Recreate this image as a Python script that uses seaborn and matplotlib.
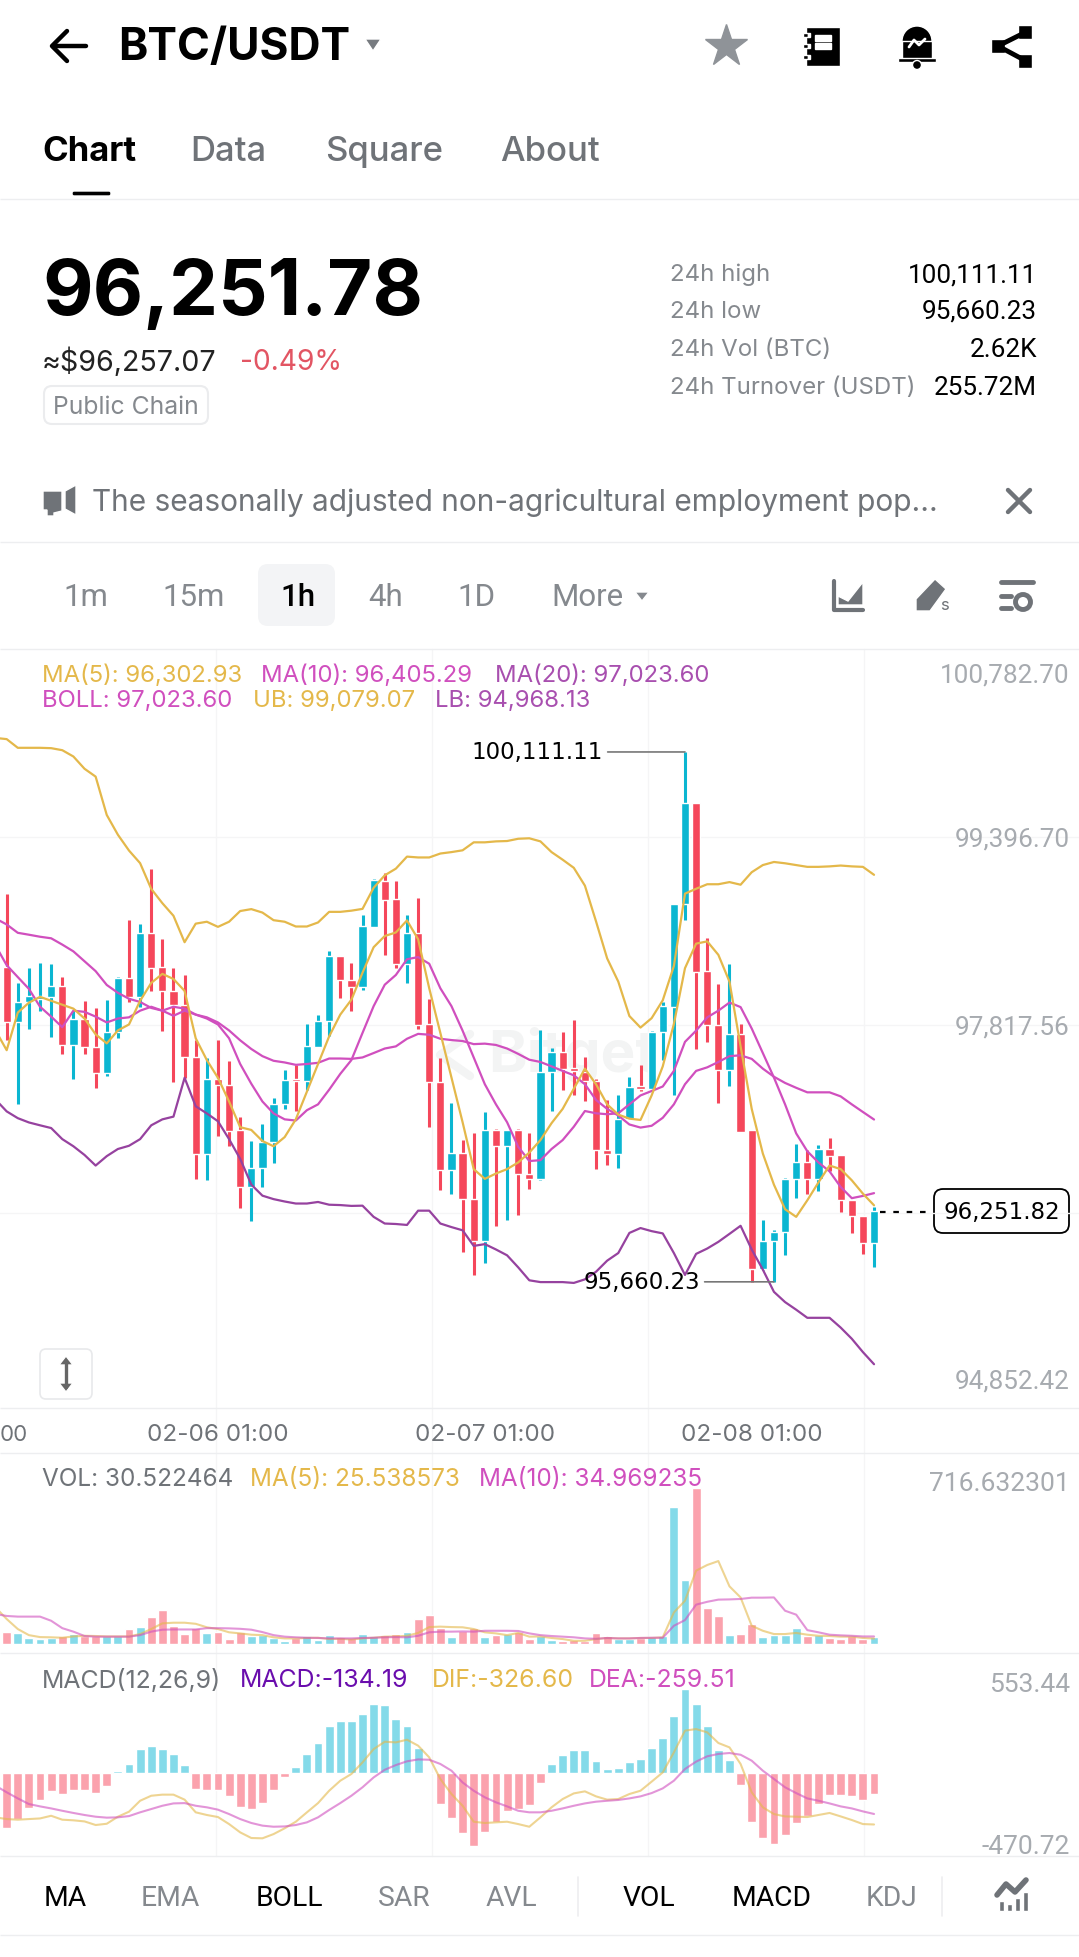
"""Bitget style BTC/USDT mobile chart screen."""
import matplotlib
matplotlib.use("Agg")
import matplotlib.pyplot as plt
from matplotlib.patches import FancyBboxPatch, Polygon, Rectangle, Circle
import numpy as np
import pandas as pd
import seaborn as sns

W, H = 1079, 1958

# candles
opens = [98303, 97839, 98011, 98038, 98054, 98147, 97646, 97865, 97633, 97417, 97756, 98214, 98054, 98592, 98303, 98104,
         97988, 97550, 96736, 97364, 97314, 96932, 96461, 96617, 96836, 97158, 97364, 97351, 97633, 97849, 98393, 98197,
         98137, 98643, 99026, 98876, 98332, 98591, 97822, 97335, 96600, 96746, 96352, 96007, 96933, 96802, 96933, 96562,
         96521, 97425, 97593, 97458, 97425, 97350, 96768, 96731, 97027, 97301, 97282, 97762, 97968, 98831, 99686, 98268,
         97818, 97440, 97743, 96933, 95771, 96007, 96075, 96521, 96663, 96525, 96776, 96727, 96345, 96213, 95988]
closes = [97839, 98011, 98061, 98061, 98147, 97646, 97865, 97629, 97417, 97756, 98214, 98054, 98592, 98297, 98104, 97988,
          97550, 96736, 97364, 97314, 96926, 96461, 96617, 96836, 97158, 97357, 97351, 97639, 97849, 98393, 98197, 98137,
          98651, 99033, 98868, 98332, 98591, 97815, 97335, 96600, 96746, 96352, 96007, 96933, 96802, 96933, 96562, 96521,
          97425, 97593, 97451, 97432, 97350, 96768, 96731, 97027, 97301, 97282, 97762, 97976, 98831, 99686, 98265, 97815,
          97440, 97743, 96918, 95771, 96007, 96075, 96525, 96663, 96525, 96776, 96720, 96345, 96213, 95988, 96251.82]
highs = [98918, 98171, 98297, 98337, 98327, 98220, 97938, 98021, 97961, 98028, 98220, 98702, 98669, 99127, 98542, 98297,
         98237, 97689, 97540, 97689, 97517, 97042, 96843, 96982, 97201, 97440, 97483, 97822, 97905, 98436, 98393, 98337,
         98745, 99045, 99093, 99026, 98745, 98883, 98040, 97537, 97162, 96851, 96907, 97083, 96945, 96933, 96945, 96907,
         97777, 97627, 97758, 97863, 97545, 97368, 97188, 97226, 97383, 97481, 97770, 98013, 98838, 100111.11, 99686, 98546,
         98163, 98332, 97826, 96933, 96176, 96093, 96532, 96821, 96768, 96813, 96870, 96727, 96345, 96213, 96288]
lows = [97689, 97158, 97782, 97938, 97716, 97573, 97364, 97573, 97291, 97390, 97706, 98011, 97971, 98104, 97766, 97341,
        97374, 96527, 96517, 96886, 96799, 96278, 96169, 96454, 96660, 97108, 97092, 97274, 97629, 97729, 98048, 97938,
        98115, 98643, 98407, 98295, 98171, 97788, 96963, 96431, 96401, 95913, 95715, 95820, 96127, 96183, 96221, 96438,
        96513, 97095, 97275, 97226, 97181, 96607, 96645, 96618, 97027, 97263, 97275, 97526, 97226, 98700, 97612, 97676,
        97162, 97308, 96915, 95660.23, 95763, 95660.23, 95883, 96363, 96401, 96420, 96588, 96251, 96071, 95895, 95782]

# overlays, the first value sits one candle left of the screen edge
ma5 = [97772, 97606, 97922, 98005, 98054, 98021, 97988, 97955, 97872, 97739, 97663, 97772, 97822, 98021, 98171, 98247,
       98204, 98104, 97706, 97523, 97374, 97175, 96959, 96936, 96843, 96799, 96876, 97025, 97258, 97490, 97722, 97905,
       98030, 98257, 98471, 98565, 98595, 98696, 98538, 98126, 97751, 97376, 97001, 96607, 96525, 96570, 96607, 96663,
       96746, 96851, 96993, 97113, 97282, 97451, 97320, 97151, 97065, 97031, 97020, 97226, 97470, 97826, 98295, 98501,
       98520, 98407, 98182, 97638, 97113, 96738, 96476, 96270, 96206, 96345, 96495, 96637, 96607, 96513, 96401, 96302.93]
ma10 = [98486, 98320, 98220, 98121, 97971, 97888, 97799, 97938, 97928, 97888, 97839, 97872, 97882, 97938, 97971, 97938,
        97895, 97938, 97905, 97872, 97822, 97706, 97490, 97324, 97175, 97075, 97025, 97015, 97102, 97151, 97274, 97407,
        97523, 97751, 97976, 98156, 98238, 98370, 98388, 98332, 98126, 97976, 97770, 97545, 97320, 97151, 97001, 96795,
        96675, 96682, 96776, 96851, 96963, 97095, 97076, 97068, 97076, 97151, 97226, 97263, 97301, 97432, 97676, 97770,
        97882, 97938, 98006, 97968, 97788, 97582, 97376, 97151, 96907, 96757, 96663, 96588, 96457, 96363, 96382, 96405.29]
ma20 = [98712, 98662, 98592, 98576, 98559, 98546, 98493, 98436, 98353, 98270, 98154, 98088, 98038, 98011, 97961, 97938,
        97971, 97955, 97905, 97882, 97839, 97772, 97689, 97616, 97556, 97517, 97503, 97483, 97490, 97500, 97536, 97536,
        97533, 97545, 97582, 97620, 97638, 97702, 97743, 97736, 97702, 97691, 97683, 97657, 97661, 97650, 97620, 97575,
        97526, 97507, 97470, 97432, 97395, 97320, 97188, 97113, 97057, 96982, 96956, 96971, 97038, 97151, 97320, 97432,
        97462, 97507, 97556, 97563, 97533, 97451, 97383, 97331, 97290, 97252, 97252, 97252, 97218, 97151, 97087, 97023.60]
boll_ub = [100229, 100219, 100146, 100146, 100146, 100143, 100126, 100073, 99970, 99904, 99582, 99416, 99283, 99177, 98961, 98841,
           98735, 98513, 98669, 98685, 98642, 98685, 98775, 98791, 98762, 98698, 98685, 98645, 98645, 98679, 98768, 98768,
           98778, 98793, 98970, 99075, 99131, 99232, 99225, 99225, 99258, 99270, 99285, 99352, 99352, 99360, 99363, 99382,
           99386, 99360, 99270, 99206, 99138, 98988, 98688, 98377, 98182, 97893, 97796, 97875, 98025, 98313, 98921, 98962,
           99000, 99000, 99018, 98996, 99101, 99161, 99187, 99176, 99161, 99146, 99146, 99150, 99157, 99150, 99146, 99079.07]
boll_lb = [97191, 97092, 97035, 96999, 96975, 96952, 96859, 96799, 96726, 96637, 96716, 96776, 96803, 96859, 96975, 97025,
           97048, 97374, 97135, 97075, 97009, 96859, 96693, 96477, 96384, 96355, 96335, 96318, 96318, 96331, 96308, 96305,
           96298, 96300, 96206, 96150, 96146, 96138, 96258, 96258, 96150, 96120, 96093, 95962, 95977, 95932, 95883, 95782,
           95673, 95658, 95658, 95658, 95651, 95681, 95745, 95838, 95902, 96071, 96112, 96086, 96067, 95902, 95718, 95895,
           95940, 95996, 96063, 96131, 95932, 95763, 95576, 95490, 95426, 95358, 95358, 95358, 95276, 95182, 95070, 94968.13]

# volume
volume = [55, 51, 26, 21, 26, 37, 44, 37, 37, 38, 38, 67, 78, 124, 155, 81, 46, 73, 51, 55, 23, 54, 37, 41, 28, 14, 26, 35, 18, 41,
          31, 26, 46, 35, 40, 46, 55, 115, 133, 73, 32, 60, 73, 32, 41, 46, 55, 23, 37, 18, 14, 18, 15, 51, 37, 23, 24, 26, 31, 37,
          629, 294, 716.63, 165, 129, 41, 46, 92, 32, 41, 41, 73, 38, 41, 28, 23, 37, 23, 30.52]
vol_ma5 = [168, 115, 69, 41, 32, 31, 29, 35, 38, 37, 35, 35, 35, 46, 69, 95, 98, 98, 93, 77, 69, 54, 49, 43, 41, 31, 26, 26, 28, 29,
           23, 24, 21, 26, 29, 34, 35, 38, 51, 78, 80, 78, 77, 69, 54, 49, 41, 51, 34, 35, 28, 23, 15, 15, 23, 28, 26, 26, 28, 28,
           31, 145, 199, 337, 363, 381, 265, 214, 84, 61, 46, 46, 51, 43, 38, 37, 34, 34, 28, 25.54]
vol_ma10 = [138, 129, 126, 126, 126, 107, 73, 57, 37, 34, 34, 34, 34, 41, 57, 66, 67, 67, 67, 73, 73, 72, 70, 66, 55, 41, 34, 31, 29, 28,
            26, 26, 26, 28, 29, 31, 32, 31, 38, 54, 57, 57, 58, 57, 61, 61, 61, 60, 49, 41, 37, 34, 31, 26, 24, 28, 26, 26, 28, 29,
            29, 84, 110, 181, 194, 204, 205, 207, 213, 213, 214, 153, 135, 64, 54, 43, 40, 38, 35, 34.97]

# macd
macd_hist = [-351, -292, -224, -168, -111, -130, -104, -104, -124, -79, 17, 60, 155, 177, 155, 124, 53, -98, -104, -104, -143, -213,
             -226, -187, -104, -23, 40, 124, 194, 302, 334, 334, 379, 443, 437, 347, 302, 162, 4, -196, -285, -381, -462, -373,
             -313, -239, -228, -202, -60, 60, 117, 149, 149, 79, 28, 34, 72, 92, 162, 226, 366, 539, 443, 302, 149, 85, -72, -309,
             -411, -449, -392, -315, -271, -194, -136, -136, -143, -168, -134.19]
macd_dif = [-281, -292, -296, -292, -288, -271, -296, -300, -307, -330, -322, -277, -245, -175, -143, -136, -136, -168, -249, -266,
            -279, -324, -377, -413, -415, -388, -351, -309, -249, -190, -111, -47, -4, 70, 155, 202, 198, 215, 177, 102, -36, -132,
            -207, -309, -317, -313, -309, -324, -341, -281, -217, -164, -128, -115, -147, -168, -164, -132, -111, -53, 6, 134, 273,
            283, 262, 194, 166, 60, -121, -217, -260, -275, -277, -279, -266, -253, -275, -298, -324, -326.60]
macd_dea = [-79, -121, -160, -196, -211, -224, -239, -253, -266, -277, -283, -281, -273, -249, -228, -207, -192, -190, -207, -217,
            -232, -260, -292, -317, -334, -341, -339, -330, -313, -281, -234, -190, -143, -89, -26, 23, 53, 77, 89, 87, 60, 17, -58,
            -111, -153, -185, -211, -239, -249, -249, -239, -224, -207, -192, -181, -175, -170, -160, -147, -126, -96, -47, 28, 75,
            109, 124, 130, 119, 81, 17, -36, -89, -126, -160, -175, -192, -211, -224, -243, -259.51]

price_ticks = [100782.70, 99396.70, 97817.56, 94852.42]
price_grid = [99396.70, 97817.56, 96238.42]
date_labels = ["02-06 01:00", "02-07 01:00", "02-08 01:00"]
date_candles = [19, 43, 67]
last_price = 96251.82

RED, TEAL = "#F5475B", "#0BB6D1"
RED_PALE, TEAL_PALE = "#FBA2AD", "#84DAE9"
YELLOW, MAGENTA, PURPLE = "#E4B84A", "#D04FBE", "#96429F"
GREY, LIGHT = "#6F7378", "#A7ABB0"
RULE = "#EDEEF0"
WIDE = ["DejaVu Sans"]
TABULAR = ["Roboto", "Inter"]

sns.set_theme(style="white")
plt.rcParams["font.family"] = ["Inter", "DejaVu Sans"]

fig = plt.figure(figsize=(W / 100, H / 100), dpi=100, facecolor="white")

ui = fig.add_axes([0, 0, 1, 1], zorder=0)
ui.set_xlim(0, W)
ui.set_ylim(H, 0)
ui.axis("off")


def panel(top, bottom, ymax, ymin):
    ax = fig.add_axes([0, 1 - bottom / H, 1, (bottom - top) / H], zorder=1)
    ax.patch.set_alpha(0)
    ax.set_xlim(-0.6, (W - 6.67) / 11.12)
    ax.set_ylim(ymin, ymax)
    ax.axis("off")
    return ax


def label(x, y, s, size=16, color="black", ha="left", weight="normal", family=None):
    kw = {"family": family} if family else {}
    return ui.text(x, y + 2, s, fontsize=size, color=color, ha=ha, va="center", fontweight=weight, **kw)


def rule(y, x0=0, x1=W, color=RULE, lw=1.0):
    ui.plot([x0, x1], [y, y], color=color, lw=lw, solid_capstyle="butt")


line_idx = np.arange(-1, len(closes))
candle_idx = np.arange(len(closes))
direction = np.where(np.array(closes) >= np.array(opens), "up", "down")

# ---- main candle panel
ax = panel(650, 1409, 100976, 100976 - 759 * 8.4)
body_lo = np.minimum(opens, closes)
body_hi = np.maximum(opens, closes)
candle_colors = [TEAL if d == "up" else RED for d in direction]
ax.vlines(candle_idx, lows, highs, colors=candle_colors, lw=2.2, zorder=2)
ax.bar(candle_idx, body_hi - body_lo, bottom=body_lo, width=0.74, color=candle_colors, zorder=2.5)

main_lines = pd.DataFrame({"i": line_idx, "ma5": ma5, "ma10": ma10, "ma20": ma20, "ub": boll_ub, "lb": boll_lb})
for col, colr in [("ub", YELLOW), ("lb", PURPLE), ("ma20", MAGENTA), ("ma10", MAGENTA), ("ma5", YELLOW)]:
    sns.lineplot(data=main_lines, x="i", y=col, color=colr, lw=1.6, estimator=None, sort=False, legend=False, ax=ax, zorder=3)
ax.set_xlim(-0.6, (W - 6.67) / 11.12)
ax.set_ylim(100976 - 759 * 8.4, 100976)
ax.axis("off")

for idx, val, off, txt in [(61, max(highs), -82, "100,111.11"), (69, min(lows), -74, "95,660.23")]:
    ax.annotate(txt, xy=(idx, val), xytext=(off, 0), textcoords="offset pixels", ha="right", va="center",
                fontsize=16.5, color="black", zorder=6, family=WIDE,
                arrowprops=dict(arrowstyle="-", color="#777777", lw=1.2, shrinkA=1, shrinkB=0))

# ---- volume panel
axv = panel(1454, 1654, 877, -41)
vol_df = pd.DataFrame({"i": candle_idx, "v": volume, "d": direction})
sns.barplot(data=vol_df, x="i", y="v", hue="d", palette={"up": TEAL_PALE, "down": RED_PALE}, native_scale=True,
            dodge=False, width=0.8, saturation=1, errorbar=None, legend=False, ax=axv)
vol_lines = pd.DataFrame({"i": line_idx, "a": vol_ma5, "b": vol_ma10})
sns.lineplot(data=vol_lines, x="i", y="a", color=YELLOW, alpha=0.6, lw=1.5, estimator=None, legend=False, ax=axv)
sns.lineplot(data=vol_lines, x="i", y="b", color=MAGENTA, alpha=0.6, lw=1.5, estimator=None, legend=False, ax=axv)
axv.set_xlim(-0.6, (W - 6.67) / 11.12)
axv.set_ylim(-41, 877)
axv.axis("off")

# ---- macd panel
axm = panel(1654, 1857, 769, -528)
hist_df = pd.DataFrame({"i": candle_idx, "v": macd_hist, "d": np.where(np.array(macd_hist) >= 0, "up", "down")})
sns.barplot(data=hist_df, x="i", y="v", hue="d", palette={"up": TEAL_PALE, "down": RED_PALE}, native_scale=True,
            dodge=False, width=0.8, saturation=1, errorbar=None, legend=False, ax=axm)
macd_lines = pd.DataFrame({"i": line_idx, "dif": macd_dif, "dea": macd_dea})
sns.lineplot(data=macd_lines, x="i", y="dif", color=YELLOW, alpha=0.6, lw=1.5, estimator=None, legend=False, ax=axm)
sns.lineplot(data=macd_lines, x="i", y="dea", color=MAGENTA, alpha=0.6, lw=1.5, estimator=None, legend=False, ax=axm)
axm.set_xlim(-0.6, (W - 6.67) / 11.12)
axm.set_ylim(-528, 769)
axm.axis("off")

# ---- grid, drawn on the ui layer behind the panels
for gx in [216, 432, 648, 864]:
    ui.plot([gx, gx], [650, 1857], color="#F5F5F6", lw=1.0)
for p in price_grid:
    ui.plot([0, W], [650 + (100976 - p) / 8.4] * 2, color="#F5F5F6", lw=1.0)
for y in [199.5, 543, 649.5, 1409, 1454, 1654, 1857, 1936]:
    rule(y)

for p, txt_y in zip(price_ticks, [674, 838, 1026, 1380]):
    label(1070, txt_y, f"{p:,.2f}", 18.8, LIGHT, "right", family=TABULAR)
label(0, 1433, "00", 16, GREY)
for c, t in zip(date_candles, date_labels):
    label(6.67 + 11.12 * c, 1433, t, 17.4, GREY, "center")

# legend rows
for x, s, c in [(42, "MA(5): 96,302.93", YELLOW), (261, "MA(10): 96,405.29", MAGENTA), (495, "MA(20): 97,023.60", "#A84FAF")]:
    label(x, 674, s, 17.2, c)
for x, s, c in [(42, "BOLL: 97,023.60", MAGENTA), (253, "UB: 99,079.07", YELLOW), (435, "LB: 94,968.13", "#A84FAF")]:
    label(x, 699, s, 17.2, c)
for x, s, c in [(42, "VOL: 30.522464", GREY), (250, "MA(5): 25.538573", YELLOW), (479, "MA(10): 34.969235", MAGENTA)]:
    label(x, 1478, s, 17.5, c)
label(1070, 1482, "716.632301", 19, LIGHT, "right", family=TABULAR)
for x, s, c in [(42, "MACD(12,26,9)", GREY), (240, "MACD:-134.19", "#6A0DAD"), (432, "DIF:-326.60", YELLOW), (589, "DEA:-259.51", MAGENTA)]:
    label(x, 1679, s, 17.9, c)
label(1070, 1683, "553.44", 19, LIGHT, "right", family=TABULAR)
label(1070, 1845, "-470.72", 19, LIGHT, "right", family=TABULAR)

# watermark
label(488, 1054, "Bitget", 42, "#F3F4F4", weight="bold")
ui.plot([470, 440, 470], [1035, 1056, 1077], color="#F3F4F4", lw=6)

# last price tag
ui.plot([880, 933], [1213, 1213], color="black", lw=1.6, ls=(0, (2.5, 3.5)))
ui.add_patch(FancyBboxPatch((937, 1193), 129, 38, boxstyle="round,pad=3,rounding_size=9", fc="white", ec="black", lw=1.3))
label(1002, 1211, f"{last_price:,.2f}", 16.5, "black", "center", family=WIDE)

# expand button
ui.add_patch(FancyBboxPatch((43, 1353), 46, 44, boxstyle="round,pad=3,rounding_size=6", fc="white", ec="#E8E9EB", lw=1.2))
ui.plot([66, 66], [1362, 1388], color="#666666", lw=2.4)
ui.add_patch(Polygon([[59, 1366], [66, 1357], [73, 1366]], fc="#666666"))
ui.add_patch(Polygon([[59, 1384], [66, 1393], [73, 1384]], fc="#666666"))

# ---- header
ui.plot([53, 86], [47, 47], color="black", lw=3.2)
ui.plot([67, 52, 67], [32, 47, 62], color="black", lw=3.2)
label(118, 46, "BTC/USDT", 32, "black", weight="bold")
ui.add_patch(Polygon([[365, 40], [381, 40], [373, 52]], fc="#777B80"))
ui.plot(726, 47, marker="*", ms=32, color="#8F9398", mec="#8F9398")
ui.add_patch(Rectangle((806, 28), 34, 39, fc="black"))
for yy in [39, 47]:
    ui.add_patch(Rectangle((815, yy - 3), 16, 6, fc="white"))
for yy in [36, 47, 58]:
    ui.add_patch(Rectangle((803, yy - 2), 5, 4, fc="black"))
    ui.add_patch(Rectangle((808, yy - 2), 2, 4, fc="white"))
ui.add_patch(Circle((917, 42), 15, fc="black"))
ui.add_patch(Rectangle((902, 42), 30, 20, fc="black"))
ui.add_patch(Rectangle((898, 59), 38, 4, fc="black"))
ui.add_patch(Circle((917, 66), 4.5, fc="black"))
ui.plot([909, 914, 919, 925], [48, 41, 46, 40], color="white", lw=2)
ui.plot([1026, 998, 1026], [33, 47, 62], color="black", lw=3.5)
for sx, sy in [(1025, 33), (998, 47), (1025, 62)]:
    ui.add_patch(Rectangle((sx - 7, sy - 7), 14, 14, fc="black"))

for x, s, c, w in [(42, "Chart", "black", "bold"), (190, "Data", GREY, "medium"), (325, "Square", GREY, "medium"), (500, "About", GREY, "medium")]:
    label(x, 150, s, 25, c, weight=w)
ui.add_patch(FancyBboxPatch((72, 192), 39, 5, boxstyle="round,pad=0,rounding_size=2", fc="black"))

label(42, 292, "96,251.78", 56, "black", weight="bold")
label(42, 360, "≈$96,257.07", 20.6, "#222222")
label(240, 360, "-0.49%", 20.3, "#E25563")
ui.add_patch(FancyBboxPatch((44, 387), 164, 38, boxstyle="round,pad=0,rounding_size=8", fc="white", ec="#EBECEE", lw=1.5))
label(53, 405, "Public Chain", 17.8, "#85898E")

for y, a, b in [(273, "24h high", "100,111.11"), (310, "24h low", "95,660.23"),
                (348, "24h Vol (BTC)", "2.62K"), (386, "24h Turnover (USDT)", "255.72M")]:
    label(670, y, a, 17.3, "#85898E")
    label(1037, y, b, 18.8, "black", "right", family=TABULAR)

ui.add_patch(Polygon([[43, 492], [62, 492], [62, 512], [54, 514], [54, 517], [47, 517], [47, 511], [43, 511]], fc=GREY))
ui.add_patch(Polygon([[65, 492], [76, 486], [76, 516], [65, 510]], fc=GREY))
label(92, 501, "The seasonally adjusted non-agricultural employment pop...", 21.5, GREY)
ui.plot([1008, 1030], [491, 513], color=GREY, lw=3.2)
ui.plot([1008, 1030], [513, 491], color=GREY, lw=3.2)

# ---- timeframes
ui.add_patch(FancyBboxPatch((258, 565), 77, 62, boxstyle="round,pad=0,rounding_size=10", fc="#F3F4F6", ec="none"))
for x, s in [(86, "1m"), (194, "15m"), (386, "4h"), (477, "1D")]:
    label(x, 596, s, 22.5, "#85898E", "center", family=TABULAR)
label(298, 596, "1h", 22.5, "black", "center", weight="medium", family=TABULAR)
label(551, 596, "More", 22.5, "#85898E", family=TABULAR)
ui.add_patch(Polygon([[635, 593], [649, 593], [642, 602]], fc="#85898E"))

# toolbar icons
ui.plot([834, 834, 863], [582, 611, 611], color=GREY, lw=3)
ui.add_patch(Polygon([[838, 606], [838, 597], [848, 602], [863, 583], [863, 606]], fc=GREY))
ui.add_patch(Polygon([[916, 612], [916, 600], [935, 580], [946, 590], [930, 612]], fc=GREY))
label(945, 604, "s", 12, GREY, "center")
ui.plot([1001, 1033], [583, 583], color=GREY, lw=3.5)
ui.plot([1001, 1011], [597, 597], color=GREY, lw=3.5)
ui.plot([1001, 1011], [609, 609], color=GREY, lw=3.5)
ui.add_patch(Circle((1023, 603), 7.5, fc="white", ec=GREY, lw=3.5))

# ---- bottom bar
for x, s, c in [(65, "MA", "black"), (170, "EMA", "#85898E"), (289, "BOLL", "black"), (404, "SAR", "#85898E"), (511, "AVL", "#85898E"),
                (649, "VOL", "black"), (772, "MACD", "black"), (892, "KDJ", "#85898E")]:
    label(x, 1897, s, 20.3, c, "center", family=TABULAR)
for x in [578, 942]:
    ui.plot([x, x], [1878, 1917], color=RULE, lw=1.2)
for bx, top in [(999, 1902), (1007, 1905), (1015, 1899), (1023, 1893)]:
    ui.add_patch(Rectangle((bx, top), 5, 1912 - top, fc=GREY))
ui.plot([997, 1006, 1015, 1026], [1896, 1885, 1893, 1881], color=GREY, lw=4)

fig.savefig("out.png", dpi=100, facecolor="white")
plt.close(fig)
